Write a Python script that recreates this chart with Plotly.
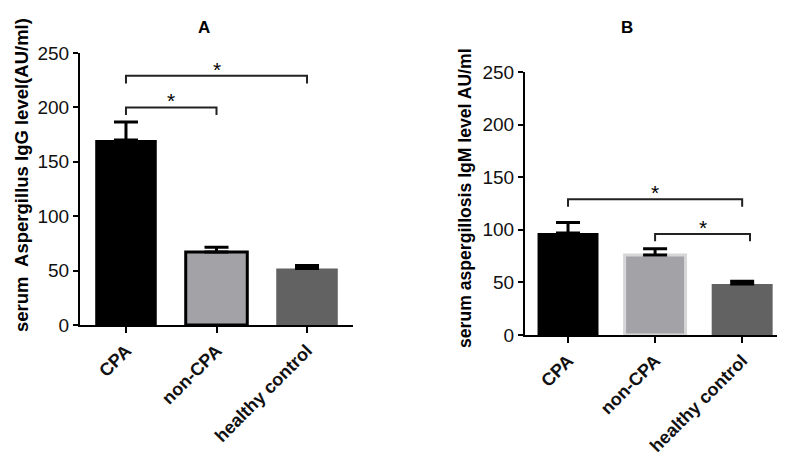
import plotly.graph_objects as go

categories = ["CPA", "non-CPA", "healthy control"]
igg_mean = [170, 67, 52]
igg_err = [16.5, 4.5, 2.8]
igm_mean = [97, 76, 48.5]
igm_err = [10, 6, 2.5]
yticks = [0, 50, 100, 150, 200, 250]

# significance brackets: (from index, to index, y level)
igg_sig = [(0, 2, 229), (0, 1, 200)]
igm_sig = [(0, 2, 129), (1, 2.09, 96)]

colors = ["#000000", "#a3a3a7", "#626262"]
line_a = ["#000000", "#000000", "#626262"]
line_b = ["#000000", "#d6d6d8", "#626262"]

FONT = "Liberation Sans, Arial, sans-serif"
xpos = [0, 1, 2]

# page body has an 8px default margin; lay out in window pixels
OFF = 8
W, H = 790 - OFF, 460 - OFF
def px(x):
    return (x - OFF) / W
def py(y):
    return 1 - (y - OFF) / H

fig = go.Figure()
fig.add_trace(go.Bar(
    x=xpos, y=igg_mean, width=0.68, xaxis="x", yaxis="y",
    marker=dict(color=colors, line=dict(color=line_a, width=[0, 3, 0])),
    error_y=dict(type="data", array=igg_err, arrayminus=[0, 0, 0], symmetric=False,
                 color="#000", thickness=3, width=12),
    showlegend=False))
fig.add_trace(go.Bar(
    x=xpos, y=igm_mean, width=0.70, xaxis="x2", yaxis="y2",
    marker=dict(color=colors, line=dict(color=line_b, width=[0, 3, 0])),
    error_y=dict(type="data", array=igm_err, arrayminus=[0, 0, 0], symmetric=False,
                 color="#000", thickness=3, width=12),
    showlegend=False))

axis_common = dict(showgrid=False, zeroline=False, showline=True, linecolor="#000",
                   linewidth=2, ticks="outside", tickwidth=2, tickcolor="#000",
                   automargin=False)

cat_labels = [f"<b>{c}</b>" for c in categories]

fig.update_layout(
    width=W, height=H, margin=dict(l=0, r=0, t=0, b=0),
    plot_bgcolor="white", paper_bgcolor="white",
    font=dict(family=FONT, color="#111"),
    xaxis=dict(domain=[px(80), px(353)], range=[-0.508, 2.508], tickvals=xpos,
               ticktext=cat_labels, tickangle=-45, anchor="y", ticklen=6,
               tickfont=dict(size=18, family=FONT, color="#111"), **axis_common),
    yaxis=dict(domain=[py(325), py(53)], range=[0, 250], tickvals=yticks,
               anchor="x", tickfont=dict(size=19, family=FONT, color="#111"), ticklen=5,
               **axis_common),
    xaxis2=dict(domain=[px(525), px(777)], range=[-0.494, 2.40], tickvals=xpos,
                ticktext=cat_labels, tickangle=-45, anchor="y2", ticklen=6,
                tickfont=dict(size=18, family=FONT, color="#111"), **axis_common),
    yaxis2=dict(domain=[py(335), py(72)], range=[0, 250], tickvals=yticks,
                anchor="x2", tickfont=dict(size=19, family=FONT, color="#111"), ticklen=5,
                **axis_common),
)

def add_brackets(sig, xr, yr, drop):
    for a, b, yv in sig:
        fig.add_shape(type="path", xref=xr, yref=yr,
                      path=f"M {a},{yv-drop} L {a},{yv} L {b},{yv} L {b},{yv-drop}",
                      line=dict(color="#222", width=2))
        fig.add_annotation(x=(a+b)/2, y=yv, xref=xr, yref=yr, text="*",
                           showarrow=False, yanchor="bottom", yshift=-7,
                           font=dict(size=21, family=FONT, color="#000"))

add_brackets(igg_sig, "x", "y", 7)
add_brackets(igm_sig, "x2", "y2", 7)

# panel titles and y titles
fig.add_annotation(x=px(204), y=py(28), xref="paper", yref="paper", text="<b>A</b>",
                   showarrow=False, xanchor="center", yanchor="middle",
                   font=dict(size=17, family=FONT, color="#000"))
fig.add_annotation(x=px(627), y=py(27), xref="paper", yref="paper", text="<b>B</b>",
                   showarrow=False, xanchor="center", yanchor="middle",
                   font=dict(size=17, family=FONT, color="#000"))
fig.add_annotation(x=px(21), y=py(175), xref="paper", yref="paper",
                   text="<b>serum  Aspergillus IgG level(AU/ml)</b>", textangle=-90,
                   showarrow=False, xanchor="center", yanchor="middle",
                   font=dict(size=18.5, family=FONT, color="#000"))
fig.add_annotation(x=px(465), y=py(198), xref="paper", yref="paper",
                   text="<b>serum aspergillosis IgM level AU/ml</b>", textangle=-90,
                   showarrow=False, xanchor="center", yanchor="middle",
                   font=dict(size=17.6, family=FONT, color="#000"))

fig.write_html("out.html")
